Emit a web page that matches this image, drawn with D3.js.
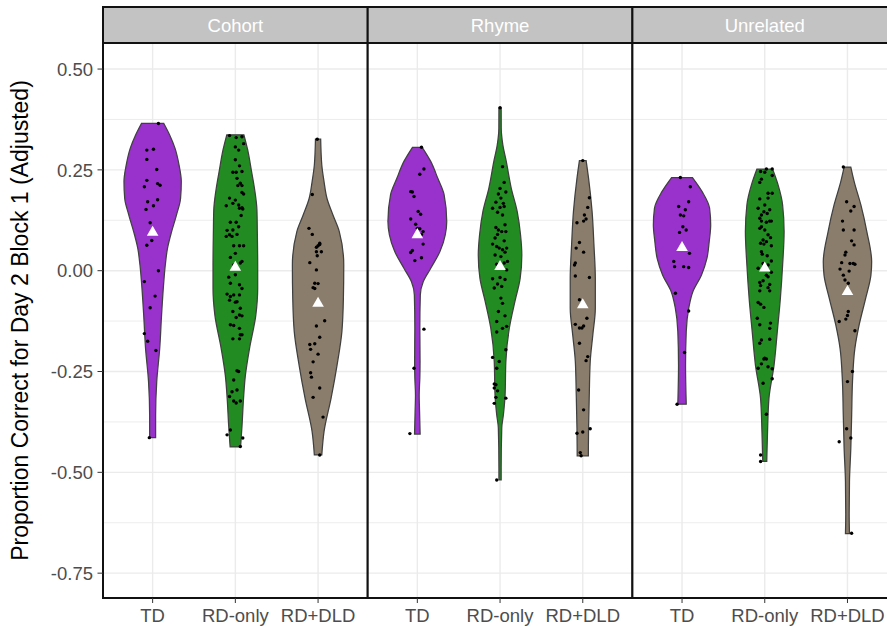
<!DOCTYPE html>
<html>
<head>
<meta charset="utf-8">
<script src="https://cdn.jsdelivr.net/npm/d3@7"></script>
<style>
  html, body { margin: 0; padding: 0; background: #fff; }
  svg { display: block; }
</style>
</head>
<body>
<svg id="chart" width="887" height="627"></svg>
<script>
// ---- facets, groups, axis ----
const tasks = ["Cohort", "Rhyme", "Unrelated"];
const groups = ["TD", "RD-only", "RD+DLD"];
const groupFill = ["#9932CC", "#228B22", "#8B7D6B"];
const yLimits = [-0.8116, 0.5646];
const yTickValues = [-0.75, -0.5, -0.25, 0, 0.25, 0.5];
const yTickLabels = ["-0.75", "-0.50", "-0.25", "0.00", "0.25", "0.50"];
const yMinorValues = [-0.625, -0.375, -0.125, 0.125, 0.375];
const yTitle = "Proportion Correct for Day 2 Block 1 (Adjusted)";

// ---- group means (white triangles), ordered TD, RD-only, RD+DLD ----
const meanCohort = [0.095, 0.008, -0.081];
const meanRhyme = [0.089, 0.010, -0.085];
const meanUnrelated = [0.057, 0.006, -0.052];

// ---- violin density profiles: [score, scaled density] ----
const cohortTD_violin = [[-0.414,0.08],[-0.358,0.08],[-0.275,0.11],[-0.193,0.19],[-0.110,0.24],[-0.027,0.30],[0.014,0.34],[0.056,0.40],[0.097,0.51],[0.138,0.64],[0.179,0.75],[0.221,0.77],[0.262,0.71],[0.304,0.60],[0.336,0.46],[0.365,0.30]];
const cohortRD_violin = [[-0.437,0.14],[-0.383,0.18],[-0.316,0.22],[-0.259,0.27],[-0.193,0.38],[-0.110,0.55],[-0.044,0.60],[0.014,0.60],[0.097,0.59],[0.150,0.58],[0.200,0.52],[0.249,0.43],[0.300,0.33],[0.337,0.23]];
const cohortDLD_violin = [[-0.457,0.10],[-0.399,0.16],[-0.316,0.35],[-0.234,0.51],[-0.151,0.64],[-0.069,0.68],[0.014,0.69],[0.097,0.57],[0.138,0.40],[0.179,0.24],[0.221,0.16],[0.262,0.10],[0.326,0.07]];
const rhymeTD_violin = [[-0.405,0.075],[-0.349,0.06],[-0.308,0.05],[-0.266,0.067],[-0.225,0.073],[-0.142,0.067],[-0.060,0.08],[-0.027,0.16],[0.006,0.36],[0.048,0.61],[0.089,0.75],[0.122,0.79],[0.188,0.72],[0.229,0.55],[0.271,0.36],[0.306,0.13]];
const rhymeRD_violin = [[-0.519,0.03],[-0.489,0.03],[-0.390,0.046],[-0.357,0.09],[-0.308,0.135],[-0.225,0.156],[-0.142,0.25],[-0.076,0.40],[-0.019,0.54],[0.039,0.585],[0.089,0.55],[0.147,0.46],[0.205,0.30],[0.271,0.167],[0.312,0.075],[0.353,0.032],[0.404,0.03]];
const rhymeDLD_violin = [[-0.459,0.15],[-0.390,0.156],[-0.308,0.175],[-0.225,0.20],[-0.159,0.27],[-0.093,0.337],[-0.019,0.337],[0.064,0.30],[0.147,0.25],[0.229,0.156],[0.273,0.09]];
const unrelTD_violin = [[-0.331,0.113],[-0.234,0.094],[-0.151,0.113],[-0.093,0.18],[-0.052,0.29],[-0.011,0.52],[0.031,0.67],[0.072,0.73],[0.113,0.77],[0.155,0.74],[0.196,0.54],[0.231,0.28]];
const unrelRD_violin = [[-0.473,0.054],[-0.399,0.075],[-0.316,0.113],[-0.234,0.25],[-0.151,0.337],[-0.068,0.42],[0.014,0.48],[0.097,0.52],[0.163,0.48],[0.212,0.36],[0.252,0.21]];
const unrelDLD_violin = [[-0.652,0.054],[-0.605,0.046],[-0.523,0.054],[-0.440,0.09],[-0.357,0.113],[-0.275,0.135],[-0.192,0.20],[-0.134,0.315],[-0.068,0.49],[-0.011,0.63],[0.022,0.65],[0.097,0.52],[0.163,0.36],[0.221,0.18],[0.257,0.09]];

// ---- individual scores: [score, horizontal jitter in category steps] ----
const cohortTD_points = [[0.365,0.07],[0.299,-0.07],[0.301,0.01],[0.276,-0.07],[0.251,0.05],[0.224,-0.07],[0.208,-0.10],[0.216,0.06],[0.212,0.09],[0.171,-0.06],[0.161,0.01],[0.176,0.06],[0.152,-0.08],[0.119,-0.03],[0.075,-0.01],[0.063,-0.07],[0.000,0.07],[-0.027,-0.10],[-0.063,0.03],[-0.092,-0.03],[-0.156,-0.10],[-0.175,-0.06],[-0.198,0.04],[-0.414,-0.04]];
const cohortRD_points = [[0.335,-0.07],[0.330,0.01],[0.332,0.08],[0.307,0.00],[0.315,0.10],[0.299,0.04],[0.275,0.00],[0.260,0.05],[0.244,-0.03],[0.244,0.01],[0.246,0.08],[0.229,0.02],[0.217,0.06],[0.211,0.03],[0.211,0.08],[0.194,0.08],[0.190,0.10],[0.180,-0.07],[0.161,-0.11],[0.175,0.00],[0.167,-0.03],[0.163,0.04],[0.156,0.08],[0.153,0.09],[0.155,0.05],[0.137,0.07],[0.120,-0.06],[0.120,0.01],[0.100,-0.10],[0.089,-0.07],[0.101,-0.03],[0.109,0.04],[0.085,-0.11],[0.085,-0.04],[0.090,0.02],[0.062,-0.02],[0.062,0.05],[0.062,0.10],[0.043,0.00],[0.023,0.08],[0.019,0.06],[0.033,-0.06],[0.014,-0.02],[-0.016,-0.08],[-0.010,0.00],[-0.031,-0.06],[-0.035,0.05],[-0.044,0.08],[-0.058,-0.10],[-0.064,-0.06],[-0.060,-0.02],[-0.060,0.05],[-0.077,0.02],[-0.073,-0.07],[-0.078,0.00],[-0.093,0.06],[-0.101,-0.03],[-0.112,0.08],[-0.110,0.05],[-0.116,0.01],[-0.134,-0.06],[-0.136,-0.02],[-0.143,0.05],[-0.159,0.08],[-0.169,-0.03],[-0.169,0.05],[-0.159,0.06],[-0.248,0.02],[-0.250,0.04],[-0.271,-0.02],[-0.296,0.02],[-0.300,-0.04],[-0.312,-0.07],[-0.323,0.06],[-0.323,-0.02],[-0.328,0.01],[-0.395,-0.06],[-0.407,-0.10],[-0.415,0.09],[-0.436,0.06]];
const cohortDLD_points = [[0.326,-0.01],[0.189,-0.07],[0.105,-0.11],[0.090,-0.07],[0.068,0.02],[0.062,0.00],[0.065,0.02],[0.058,-0.02],[0.047,-0.02],[0.047,0.04],[0.037,-0.01],[0.020,-0.10],[0.002,-0.02],[-0.031,-0.04],[-0.032,0.00],[-0.042,-0.06],[-0.044,-0.04],[-0.124,0.08],[-0.137,-0.02],[-0.165,0.02],[-0.183,-0.10],[-0.181,-0.04],[-0.195,-0.09],[-0.207,0.00],[-0.226,-0.06],[-0.253,-0.09],[-0.264,-0.08],[-0.291,0.02],[-0.314,-0.06],[-0.363,0.06],[-0.457,0.02]];
const rhymeTD_points = [[0.306,0.05],[0.252,0.08],[0.239,0.03],[0.196,-0.08],[0.195,-0.06],[0.184,-0.04],[0.147,0.01],[0.140,0.04],[0.128,-0.08],[0.115,-0.02],[0.105,0.00],[0.104,0.03],[0.097,0.07],[0.090,0.05],[0.066,0.07],[0.050,-0.06],[0.045,-0.08],[0.032,0.05],[0.025,-0.03],[-0.145,0.08],[-0.242,-0.04],[-0.404,-0.09]];
const rhymeRD_points = [[0.404,0.00],[0.258,0.03],[0.219,0.05],[0.204,0.00],[0.195,0.07],[0.190,-0.02],[0.180,0.01],[0.167,0.04],[0.170,-0.05],[0.159,0.05],[0.155,-0.09],[0.157,0.00],[0.145,-0.03],[0.138,0.03],[0.114,0.06],[0.107,-0.05],[0.101,-0.02],[0.097,0.02],[0.090,-0.03],[0.097,0.07],[0.081,-0.06],[0.074,0.05],[0.066,-0.09],[0.060,-0.04],[0.056,-0.01],[0.056,0.08],[0.052,0.03],[0.046,0.06],[0.039,-0.06],[0.035,0.01],[0.023,0.09],[0.019,0.05],[0.016,-0.04],[0.002,0.08],[-0.020,-0.09],[-0.017,0.00],[-0.022,0.06],[-0.033,-0.03],[-0.039,0.02],[-0.043,-0.07],[-0.068,0.01],[-0.081,0.03],[-0.101,-0.02],[-0.112,0.06],[-0.126,-0.04],[-0.138,0.08],[-0.143,0.03],[-0.152,-0.04],[-0.196,0.07],[-0.215,-0.09],[-0.225,-0.01],[-0.242,-0.04],[-0.281,-0.07],[-0.283,-0.05],[-0.291,-0.07],[-0.298,-0.03],[-0.316,0.07],[-0.314,-0.05],[-0.329,-0.07],[-0.519,-0.04]];
const rhymeDLD_points = [[0.273,0.00],[0.181,0.08],[0.157,0.06],[0.138,0.02],[0.128,0.04],[0.123,0.01],[0.119,-0.07],[0.070,-0.04],[0.056,-0.08],[0.046,0.01],[0.019,-0.09],[0.014,-0.10],[-0.013,-0.09],[-0.017,0.08],[-0.072,-0.04],[-0.133,-0.09],[-0.142,-0.04],[-0.142,-0.01],[-0.137,0.01],[-0.118,0.05],[-0.180,-0.04],[-0.213,0.06],[-0.223,0.04],[-0.296,-0.05],[-0.345,0.01],[-0.392,0.09],[-0.403,-0.07],[-0.400,0.00],[-0.451,-0.03],[-0.459,-0.02]];
const unrelTD_points = [[0.231,-0.02],[0.208,0.10],[0.171,0.08],[0.159,-0.04],[0.151,0.04],[0.138,-0.02],[0.136,0.02],[0.109,0.01],[0.101,0.05],[0.095,-0.03],[0.043,0.09],[0.023,-0.10],[0.010,-0.09],[0.010,0.02],[0.008,0.08],[-0.056,-0.08],[-0.100,0.08],[-0.203,0.03],[-0.331,-0.06]];
const unrelRD_points = [[0.252,0.02],[0.252,0.09],[0.246,-0.05],[0.244,0.00],[0.236,0.09],[0.227,-0.04],[0.219,-0.06],[0.192,0.04],[0.192,0.09],[0.178,-0.06],[0.180,0.04],[0.155,-0.08],[0.163,0.00],[0.151,0.06],[0.146,-0.01],[0.142,0.03],[0.138,-0.04],[0.130,-0.06],[0.123,0.06],[0.123,-0.04],[0.120,0.02],[0.123,0.08],[0.109,-0.04],[0.105,-0.06],[0.101,0.00],[0.089,0.04],[0.082,0.07],[0.076,-0.02],[0.072,0.02],[0.068,-0.05],[0.066,-0.01],[0.062,0.08],[0.047,-0.04],[0.041,-0.03],[0.037,0.03],[0.024,0.08],[0.018,-0.02],[0.006,-0.08],[0.014,0.04],[0.006,-0.01],[-0.004,0.08],[-0.011,0.02],[-0.015,0.04],[-0.029,-0.06],[-0.025,-0.02],[-0.034,0.06],[-0.042,0.04],[-0.037,-0.05],[-0.050,0.06],[-0.050,-0.06],[-0.079,-0.08],[-0.083,-0.05],[-0.091,-0.01],[-0.118,-0.09],[-0.134,-0.06],[-0.130,0.07],[-0.143,0.06],[-0.172,-0.04],[-0.170,0.06],[-0.180,-0.06],[-0.217,0.00],[-0.219,-0.01],[-0.219,0.02],[-0.231,-0.04],[-0.242,-0.08],[-0.238,0.04],[-0.243,0.09],[-0.279,-0.02],[-0.268,0.09],[-0.356,0.02],[-0.457,-0.05],[-0.473,-0.05]];
const unrelDLD_points = [[0.257,-0.05],[0.171,-0.01],[0.159,0.08],[0.148,0.04],[0.123,-0.06],[0.101,-0.05],[0.101,0.08],[0.074,0.05],[0.064,0.08],[0.046,-0.02],[0.039,-0.03],[0.020,-0.07],[0.018,0.03],[0.018,0.07],[0.016,0.09],[0.004,-0.09],[-0.001,0.02],[-0.011,-0.05],[-0.023,-0.03],[-0.031,0.01],[-0.101,0.01],[-0.111,0.00],[-0.120,-0.02],[-0.126,-0.10],[-0.149,0.09],[-0.250,0.06],[-0.275,0.00],[-0.392,-0.01],[-0.415,0.04],[-0.424,-0.10],[-0.651,0.05]];

// ---- lookup tables built from the arrays above ----
const violins = {
  Cohort: [cohortTD_violin, cohortRD_violin, cohortDLD_violin],
  Rhyme: [rhymeTD_violin, rhymeRD_violin, rhymeDLD_violin],
  Unrelated: [unrelTD_violin, unrelRD_violin, unrelDLD_violin]
};
const points = {
  Cohort: [cohortTD_points, cohortRD_points, cohortDLD_points],
  Rhyme: [rhymeTD_points, rhymeRD_points, rhymeDLD_points],
  Unrelated: [unrelTD_points, unrelRD_points, unrelDLD_points]
};
const means = { Cohort: meanCohort, Rhyme: meanRhyme, Unrelated: meanUnrelated };

// ---- layout ----
const panelLeft = 103, panelTop = 43, panelBottom = 598, panelWidth = 264.7;
const stripTop = 7;
const font = "'Liberation Sans', Arial, Helvetica, sans-serif";

const svg = d3.select("#chart");

const facet = d3.scaleBand().domain(tasks)
  .range([panelLeft, panelLeft + panelWidth * tasks.length]).padding(0);
const x = d3.scalePoint().domain(groups).range([0, facet.bandwidth()]).padding(0.6);
const y = d3.scaleLinear().domain(yLimits).range([panelBottom, panelTop]);
const color = d3.scaleOrdinal().domain(groups).range(groupFill);
const halfWidth = d3.scaleLinear().domain([0, 1]).range([0, 0.45 * x.step()]);

const violinArea = d => d3.area()
  .y(p => y(p[0]))
  .x0(p => x(d) - halfWidth(p[1]))
  .x1(p => x(d) + halfWidth(p[1]))
  .curve(d3.curveMonotoneY);

tasks.forEach((task, ti) => {
  const px = facet(task);
  const g = svg.append("g").attr("transform", `translate(${px},0)`);

  const clipId = "clip-" + ti;
  svg.append("clipPath").attr("id", clipId)
    .append("rect").attr("x", 0).attr("y", panelTop)
    .attr("width", facet.bandwidth()).attr("height", panelBottom - panelTop);

  const inner = g.append("g").attr("clip-path", `url(#${clipId})`);

  inner.append("rect").attr("x", 0).attr("y", panelTop)
    .attr("width", facet.bandwidth()).attr("height", panelBottom - panelTop)
    .attr("fill", "#ffffff");

  // minor + major grid
  inner.selectAll("line.ymin").data(yMinorValues).join("line")
    .attr("x1", 0).attr("x2", facet.bandwidth())
    .attr("y1", d => y(d)).attr("y2", d => y(d))
    .attr("stroke", "#ebebeb").attr("stroke-width", 0.9);
  inner.selectAll("line.ymaj").data(yTickValues).join("line")
    .attr("x1", 0).attr("x2", facet.bandwidth())
    .attr("y1", d => y(d)).attr("y2", d => y(d))
    .attr("stroke", "#ebebeb").attr("stroke-width", 1.4);
  inner.selectAll("line.xmaj").data(groups).join("line")
    .attr("x1", d => x(d)).attr("x2", d => x(d))
    .attr("y1", panelTop).attr("y2", panelBottom)
    .attr("stroke", "#ebebeb").attr("stroke-width", 1.4);

  // violins
  groups.forEach((grp, gi) => {
    inner.append("path")
      .datum(violins[task][gi])
      .attr("d", violinArea(grp))
      .attr("fill", color(grp))
      .attr("stroke", "#404040")
      .attr("stroke-width", 1.25);
  });

  // jittered scores
  groups.forEach((grp, gi) => {
    inner.append("g").selectAll("circle")
      .data(points[task][gi]).join("circle")
      .attr("cx", d => x(grp) + d[1] * x.step())
      .attr("cy", d => y(d[0]))
      .attr("r", 1.7)
      .attr("fill", "#000");
  });

  // group means
  inner.append("g").selectAll("path")
    .data(groups).join("path")
    .attr("d", d3.symbol(d3.symbolTriangle, 58))
    .attr("transform", (grp, gi) => `translate(${x(grp)},${y(means[task][gi])})`)
    .attr("fill", "#ffffff");

  // panel border
  g.append("rect").attr("x", 0).attr("y", panelTop)
    .attr("width", facet.bandwidth()).attr("height", panelBottom - panelTop)
    .attr("fill", "none").attr("stroke", "#111").attr("stroke-width", 2);

  // strip
  g.append("rect").attr("x", 0).attr("y", stripTop)
    .attr("width", facet.bandwidth()).attr("height", panelTop - stripTop)
    .attr("fill", "#c3c3c3").attr("stroke", "#111").attr("stroke-width", 2);
  g.append("text")
    .attr("x", facet.bandwidth() / 2).attr("y", (stripTop + panelTop) / 2)
    .attr("dy", "0.36em").attr("text-anchor", "middle")
    .attr("font-family", font).attr("font-size", 18.5)
    .attr("fill", "#ffffff").text(task);

  // x axis ticks and labels
  g.selectAll("line.xt").data(groups).join("line")
    .attr("x1", d => x(d)).attr("x2", d => x(d))
    .attr("y1", panelBottom).attr("y2", panelBottom + 5)
    .attr("stroke", "#333").attr("stroke-width", 1);
  g.selectAll("text.xl").data(groups).join("text")
    .attr("x", d => x(d)).attr("y", 622)
    .attr("text-anchor", "middle")
    .attr("font-family", font).attr("font-size", 18.5)
    .attr("fill", "#4d4d4d").text(d => d);
});

// y axis
const yAxis = svg.append("g");
yAxis.selectAll("line").data(yTickValues).join("line")
  .attr("x1", panelLeft - 5.5).attr("x2", panelLeft)
  .attr("y1", d => y(d)).attr("y2", d => y(d))
  .attr("stroke", "#333").attr("stroke-width", 1);
yAxis.selectAll("text").data(yTickValues).join("text")
  .attr("x", panelLeft - 10).attr("y", d => y(d))
  .attr("dy", "0.36em").attr("text-anchor", "end")
  .attr("font-family", font).attr("font-size", 18.5)
  .attr("fill", "#4d4d4d").text((d, i) => yTickLabels[i]);

svg.append("text")
  .attr("transform", `translate(28,${(panelTop + panelBottom) / 2}) rotate(-90)`)
  .attr("text-anchor", "middle")
  .attr("font-family", font).attr("font-size", 23)
  .attr("fill", "#000").text(yTitle);
</script>
</body>
</html>
